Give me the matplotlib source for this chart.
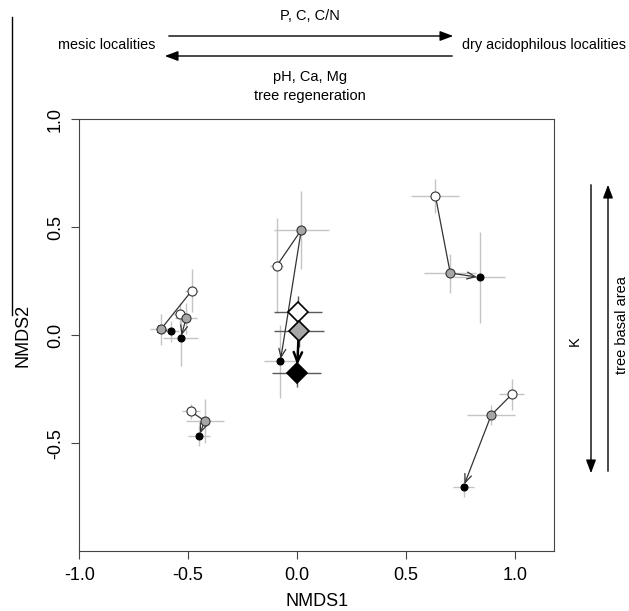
import matplotlib.pyplot as plt
from matplotlib.lines import Line2D
from matplotlib.patches import FancyArrowPatch

plt.rcParams['font.family'] = ['Liberation Sans', 'DejaVu Sans']

# trajectories: white (start) -> gray (middle) -> black (end)
white_x = [-0.483, -0.539, -0.488, -0.093, 0.635, 0.986]
white_y = [0.207, 0.098, -0.352, 0.322, 0.645, -0.273]
white_xerr = [0.03, 0.03, 0.042, 0.03, 0.11, 0.057]
white_yerr = [0.10, 0.05, 0.036, 0.22, 0.08, 0.073]

gray_x = [-0.626, -0.510, -0.424, 0.019, 0.703, 0.891]
gray_y = [0.027, 0.078, -0.396, 0.487, 0.288, -0.369]
gray_xerr = [0.05, 0.05, 0.087, 0.127, 0.12, 0.11]
gray_yerr = [0.07, 0.07, 0.10, 0.18, 0.09, 0.046]

black_x = [-0.580, -0.534, -0.450, -0.077, 0.838, 0.764]
black_y = [0.018, -0.013, -0.466, -0.121, 0.268, -0.700]
black_xerr = [0.04, 0.08, 0.05, 0.073, 0.117, 0.05]
black_yerr = [0.05, 0.13, 0.046, 0.17, 0.21, 0.046]

# overall means (diamonds)
dia_x = [0.004, 0.008, -0.001]
dia_y = [0.110, 0.018, -0.176]
dia_xerr = [0.11, 0.115, 0.112]
dia_yerr = [0.07, 0.07, 0.065]
dia_colors = ['white', '#a6a6a6', 'black']

fig = plt.figure(figsize=(6.29, 6.11), dpi=100)
ax = fig.add_axes([0.126, 0.0974, 0.755, 0.7076])
ax.set_xlim(-1.0, 1.18)
ax.set_ylim(-1.0, 1.0)

err_col = '#c4c4c4'
for xs, ys, xe, ye in [(white_x, white_y, white_xerr, white_yerr),
                       (gray_x, gray_y, gray_xerr, gray_yerr),
                       (black_x, black_y, black_xerr, black_yerr)]:
    ax.errorbar(xs, ys, xerr=xe, yerr=ye, fmt='none', ecolor=err_col,
                elinewidth=1.0, capsize=0, zorder=1)
ax.errorbar(dia_x, dia_y, xerr=dia_xerr, yerr=dia_yerr, fmt='none',
            ecolor='#5a5a5a', elinewidth=1.0, capsize=0, zorder=1)

# connecting lines and arrows
for i in range(len(white_x)):
    ax.plot([white_x[i], gray_x[i]], [white_y[i], gray_y[i]],
            color='#333333', lw=0.9, zorder=2)
    ax.annotate('', xy=(black_x[i], black_y[i]), xytext=(gray_x[i], gray_y[i]),
                arrowprops=dict(arrowstyle='->,head_length=0.6,head_width=0.25',
                                color='#333333', lw=0.9, shrinkA=3, shrinkB=2),
                zorder=2)
ax.plot(dia_x[:2], dia_y[:2], color='black', lw=1.5, zorder=2)
ax.annotate('', xy=(dia_x[2], dia_y[2]), xytext=(dia_x[1], dia_y[1]),
            arrowprops=dict(arrowstyle='->,head_length=0.7,head_width=0.3',
                            color='black', lw=1.8, shrinkA=5, shrinkB=6),
            zorder=2)

ax.plot(white_x, white_y, 'o', ms=6.5, mfc='white', mec='#333333', mew=0.8, zorder=3)
ax.plot(gray_x, gray_y, 'o', ms=6.5, mfc='#a6a6a6', mec='#333333', mew=0.8, zorder=3)
ax.plot(black_x, black_y, 'o', ms=5, mfc='black', mec='black', mew=0.8, zorder=3)
for x, y, c in zip(dia_x, dia_y, dia_colors):
    ax.plot(x, y, 'D', ms=10, mfc=c, mec='black', mew=1.2, zorder=4)

ax.set_xticks([-1.0, -0.5, 0.0, 0.5, 1.0])
ax.set_yticks([-0.5, 0.0, 0.5, 1.0])
ax.set_xticklabels(['-1.0', '-0.5', '0.0', '0.5', '1.0'])
ax.set_yticklabels(['-0.5', '0.0', '0.5', '1.0'], rotation=90, va='center')
ax.tick_params(labelsize=13, length=6, width=0.8, color='#444444', pad=5)
for s in ax.spines.values():
    s.set_linewidth(0.8)
    s.set_color('#444444')
ax.set_xlabel('NMDS1', fontsize=13, labelpad=7)
ax.set_ylabel('NMDS2', fontsize=13, labelpad=11)

# gradient annotations in figure pixel coordinates
W, H = 629.0, 611.0
def fx(px):
    return px / W
def fy(py):
    return 1 - py / H

tkw = dict(ha='center', va='center', fontsize=10.5, transform=fig.transFigure)
fig.text(fx(310), fy(16), 'P, C, C/N', **tkw)
fig.text(fx(310), fy(77), 'pH, Ca, Mg', **tkw)
fig.text(fx(310), fy(96), 'tree regeneration', **tkw)
fig.text(fx(155), fy(45), 'mesic localities', ha='right', va='center',
         fontsize=10.4, transform=fig.transFigure)
fig.text(fx(462), fy(45), 'dry acidophilous localities', ha='left', va='center',
         fontsize=10.4, transform=fig.transFigure)

akw = dict(arrowstyle='-|>,head_length=0.8,head_width=0.3', color='black', lw=1.0)
for start, end in [((166, 36), (456, 36)), ((455, 56), (162, 56)),
                   ((591, 182), (591, 476)), ((608, 474), (608, 182))]:
    fig.patches.append(FancyArrowPatch(
        (fx(start[0]), fy(start[1])), (fx(end[0]), fy(end[1])),
        transform=fig.transFigure, mutation_scale=10, **akw))
fig.text(fx(575), fy(341), 'K', rotation=90, ha='center', va='center',
         fontsize=10.5, transform=fig.transFigure)
fig.text(fx(622), fy(325), 'tree basal area', rotation=90, ha='center',
         va='center', fontsize=10.5, transform=fig.transFigure)

# stray vertical rule on the left edge
fig.add_artist(Line2D([fx(12), fx(12)], [fy(17), fy(315)], color='black',
                      lw=1.0, transform=fig.transFigure))

fig.savefig('out.png', dpi=100, facecolor='white')
